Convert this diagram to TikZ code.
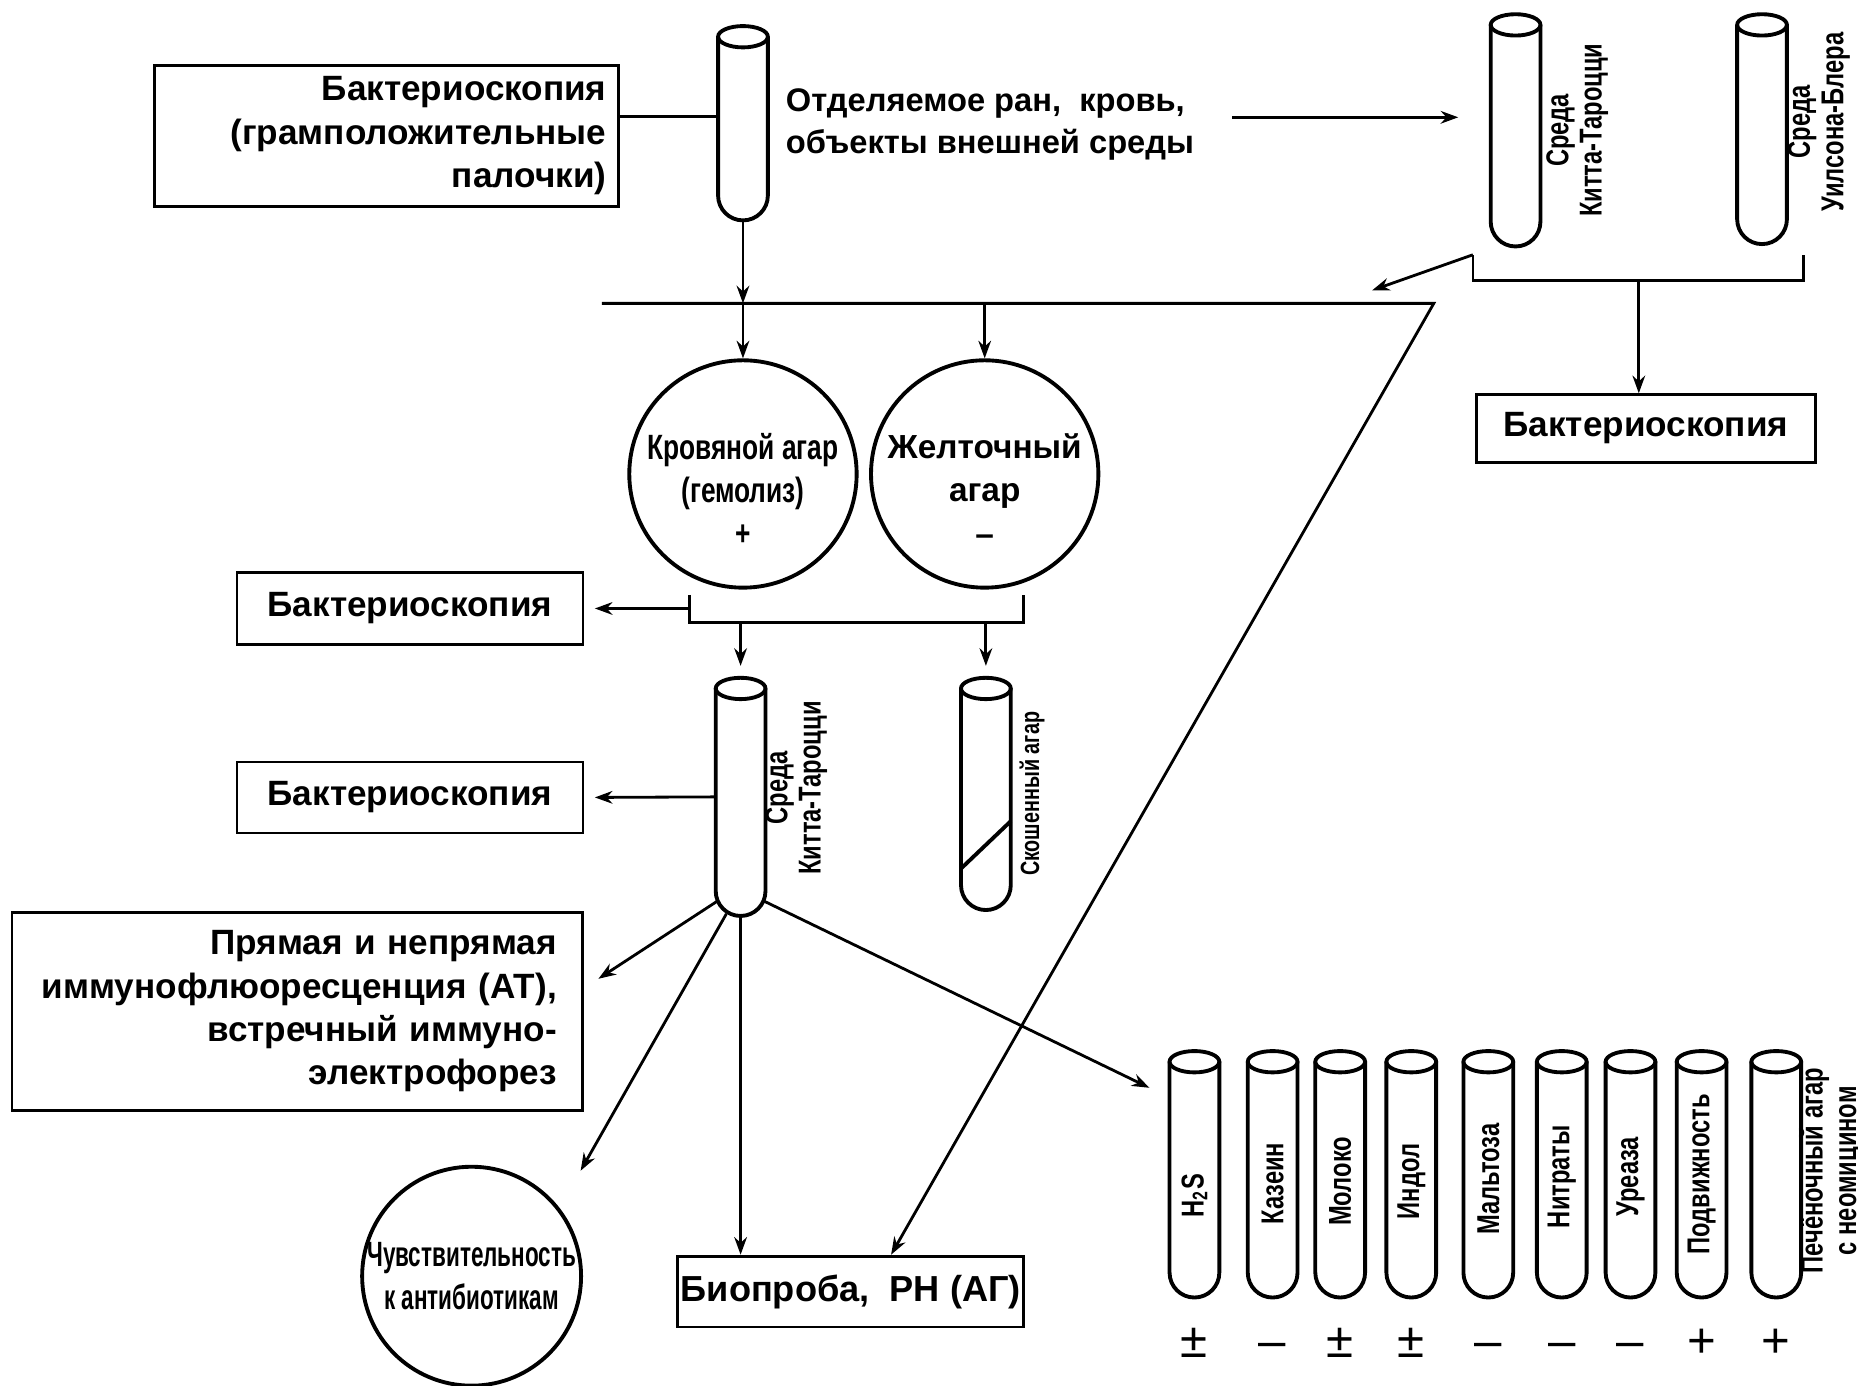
\documentclass[tikz,border=0pt]{standalone}
\usepackage{fontspec}
\setmainfont{Liberation Sans}
\newfontfamily\narrowfont[FakeStretch=0.75]{Liberation Sans}
\newfontfamily\narrowerfont[FakeStretch=0.64]{Liberation Sans}
\usetikzlibrary{arrows.meta,calc,fit,positioning}

\newcommand{\mainfnt}{\bfseries\fontsize{10}{12.3}\selectfont}

% probirka: name, x, top, bottom
\newcommand{\probirka}[4]{%
  \draw[tube] (#2-21,#3+9) -- (#2-21,#4-21) arc[start angle=180,end angle=0,radius=21] -- (#2+21,#3+9);
  \draw[tube] (#2,#3+9) ellipse[x radius=21,y radius=9];
  \coordinate (#1-a) at (#2-21,#3);
  \coordinate (#1-b) at (#2+21,#4);
  \node[fit=(#1-a)(#1-b),inner sep=0pt] (#1) {};
}

\begin{document}
\begin{tikzpicture}[x=0.01185cm,y=-0.01185cm,>={Stealth[length=5pt,width=3.6pt]},
	line width=0.8pt,font=\mainfnt,
	box/.style={draw,rectangle,inner sep=0pt},
	plate/.style={draw,circle,line width=1.1pt,inner sep=0pt,align=center},
	platetext/.style={align=center,inner sep=0pt},
	tube/.style={line width=1.1pt},
	vlabel/.style={rotate=90,align=center,inner sep=0pt,font=\narrowfont\bfseries\fontsize{9}{9.5}\selectfont},
	sign/.style={font=\fontsize{14}{14}\selectfont,inner sep=0pt,anchor=base}]

	\useasboundingbox (0,0) rectangle (1568,1169);

	% probirki
	\probirka{src}{627}{22}{186}
	\probirka{kt1}{1279}{12}{208}
	\probirka{wb}{1487}{12}{206}
	\probirka{kt2}{625}{572}{773}
	\probirka{slant}{832}{572}{768}
	\draw[tube] (811,733) -- (853,693);
	\foreach \x [count=\i] in {1008,1074,1131,1191,1256,1318,1376,1436,1499}
		{\probirka{t\i}{\x}{887}{1095}}

	% podpisi
	\node[anchor=west,align=left,inner sep=0pt,font=\bfseries\fontsize{9.3}{11.8}\selectfont] (srctext) at (662,105) {Отделяемое ран,~ кровь,\\объекты внешней среды};
	\node[vlabel] (kt1lab) at (1331,110) {Среда\\Китта-Тароцци};
	\node[vlabel] (wblab) at (1535,103) {Среда\\Уилсона-Блера};
	\node[vlabel] (kt2lab) at (672,665) {Среда\\Китта-Тароцци};
	\node[vlabel,font=\narrowfont\bfseries\fontsize{7.5}{8}\selectfont] (slantlab) at (871,670) {Скошенный агар};
	\node[vlabel] (pechlab) at (1545,988) {Печёночный агар\\с неомицином};
	\foreach \lab/\dy [count=\i] in {{H\textsubscript{2}S}/18,Казеин/8,Молоко/6,Индол/6,Мальтоза/4,Нитраты/2,Уреаза/2,Подвижность/0}
		\node[vlabel] (lab\i) at ($(t\i)+(0,\dy)$) {\lab};
	\coordinate (signrow) at (0,1146);
	\foreach \s [count=\i] in {±,–,±,±,–,–,–,+,+}
		\node[sign] (sg\i) at (t\i |- signrow) {\s};

	% bloki
	\node[box,minimum width=4.645cm,minimum height=1.41cm,text width=4.405cm,inner xsep=0.12cm,align=right] (gram) at (326,114.5)
		{Бактериоскопия\\(грамположительные\\палочки)};
	\node[box,minimum width=3.39cm,minimum height=0.675cm] (bakt3) at (1389,361.5) {Бактериоскопия};
	\node[plate,minimum size=2.275cm] (kagar) at (627,400) {};
	\node[platetext,font=\narrowfont\bfseries\fontsize{10}{12.3}\selectfont] (kagartext) at ($(kagar)+(0,13)$) {Кровяной агар\\(гемолиз)\\+};
	\node[plate,minimum size=2.275cm] (zagar) at (831,400) {};
	\node[platetext,font=\bfseries\fontsize{9.5}{12.3}\selectfont] (zagartext) at ($(zagar)+(0,13)$) {Желточный\\агар\\–};
	\node[box,minimum width=3.46cm,minimum height=0.72cm] (bakt1) at (346,513.5) {Бактериоскопия};
	\node[box,minimum width=3.46cm,minimum height=0.71cm] (bakt2) at (346,673) {Бактериоскопия};
	\node[box,minimum width=5.71cm,minimum height=1.98cm,text width=5.19cm,inner xsep=0.26cm,align=right] (pryam) at (251,853.5)
		{Прямая и непрямая\\иммунофлюоресценция (АТ),\\встречный иммуно-\\электрофорез};
	\node[plate,minimum size=2.16cm,font=\narrowerfont\bfseries\fontsize{10}{12.3}\selectfont] (chuv) at (398,1077) {Чувствительность\\к антибиотикам};
	\node[box,minimum width=3.46cm,minimum height=0.71cm,font=\bfseries\fontsize{10.3}{12}\selectfont] (bio) at (718,1090) {Биопроба,~ РН (АГ)};

	% tochki
	\coordinate (grl) at (0,98);
	\coordinate (fromsrc) at (1040,99);
	\coordinate (brl) at (1243,215);
	\coordinate (brr) at (1522,215);
	\coordinate (brm) at (1383,237);
	\coordinate (tobus) at (1158,245);
	\coordinate (busl) at (508,256);
	\coordinate (busr) at (1210,256);
	\coordinate (bioin) at ($(bio.north)+(34,0)$);
	\coordinate (pbl) at (582,502);
	\coordinate (pbr) at (864,502);
	\coordinate (pbm) at (720,525);
	\coordinate (kt2l) at ($(kt2.south west)+(3,-14)$);
	\coordinate (kt2r) at ($(kt2.south east)+(-3,-14)$);
	\coordinate (kt2m) at ($(kt2.south)+(-12,-3)$);
	\coordinate (pryamin) at (505,826);
	\coordinate (chuvin) at (490,988);
	\coordinate (rowin) at (970,918);

	% strelki
	\draw (gram.east |- grl) -- (src.west |- grl);
	\draw[->,shorten >=0.31cm] (fromsrc) -- (kt1.west |- fromsrc);
	\draw (brl) |- (brm) -| (brr);
	\draw[->] (brm) -- (brm |- bakt3.north);
	\draw[->] (brl) -- (tobus);
	\draw[->] (busl) -- (busr) -- (bioin);
	\draw[->] (src.south) -- (src.south |- busl);
	\draw[->] (src.south |- busl) -- (kagar.north);
	\draw[->] (zagar.north |- busl) -- (zagar.north);
	\draw (pbl) |- (pbm) -| (pbr);
	\draw[->,shorten >=3pt] (pbl |- bakt1.east) -- (bakt1.east);
	\draw[->,shorten >=3pt] (kt2.north |- pbm) -- (kt2.north);
	\draw[->,shorten >=3pt] (slant.north |- pbm) -- (slant.north);
	\draw[->,shorten >=3pt] (kt2.west) -- (bakt2.east);
	\draw[->] (kt2l) -- (pryamin);
	\draw[->] (kt2m) -- (chuvin);
	\draw[->] (kt2.south) -- (kt2.south |- bio.north);
	\draw[->] (kt2r) -- (rowin);
\end{tikzpicture}
\end{document}
